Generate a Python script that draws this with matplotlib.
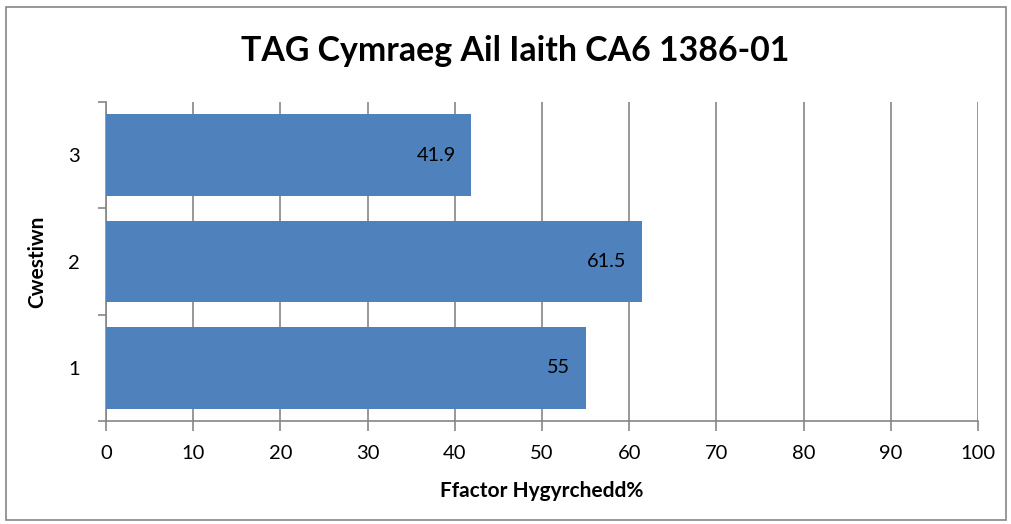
import numpy as np
import matplotlib
matplotlib.use("Agg")
import matplotlib.pyplot as plt
from matplotlib.patches import Rectangle

questions = ["1", "2", "3"]
values = [55, 61.5, 41.9]
value_labels = ["55", "61.5", "41.9"]
xticks = [0, 10, 20, 30, 40, 50, 60, 70, 80, 90, 100]

plt.rcParams['font.family'] = ['Lato', 'DejaVu Sans']

fig = plt.figure(figsize=(10.12, 5.24), dpi=100)
ax = fig.add_axes([0.1047, 0.1966, 0.8617, 0.6087])

grey = '#868686'
ypos = np.arange(len(questions))
ax.barh(ypos, values, height=0.77, color='#4f81bd', zorder=3)

for y, v, lab in zip(ypos, values, value_labels):
    ax.text(v - 1.8, y, lab, ha='right', va='center', fontsize=14.3, color='black', zorder=4)

ax.set_xlim(0, 100)
ax.set_ylim(-0.5, 2.5)
ax.set_xticks(xticks)
ax.set_xticklabels([str(t) for t in xticks], fontsize=14.5)
ax.set_yticks(ypos)
ax.set_yticklabels(questions, fontsize=14.5)
ax.set_yticks([-0.5, 0.5, 1.5, 2.5], minor=True)
ax.tick_params(axis='y', which='major', length=0, pad=19)
ax.tick_params(axis='y', which='minor', length=6, color=grey, width=1.2)
ax.tick_params(axis='x', length=7, color=grey, width=1.2, pad=10)
ax.grid(axis='x', color=grey, linewidth=1.2, zorder=0)

for s in ['top', 'right']:
    ax.spines[s].set_visible(False)
for s in ['left', 'bottom']:
    ax.spines[s].set_color(grey)
    ax.spines[s].set_linewidth(1.2)

ax.set_xlabel("Ffactor Hygyrchedd%", fontsize=15, fontweight='bold', labelpad=14)
ax.set_ylabel("Cwestiwn", fontsize=15, fontweight='bold', labelpad=15)
fig.text(0.509, 0.903, "TAG Cymraeg Ail Iaith CA6 1386-01", ha='center', va='center',
         fontsize=24.4, fontweight='bold')

border = Rectangle((0.006, 0.008), 0.988, 0.978, transform=fig.transFigure,
                   fill=False, edgecolor=grey, linewidth=1.2)
fig.patches.append(border)

fig.savefig("out.png", dpi=100)
